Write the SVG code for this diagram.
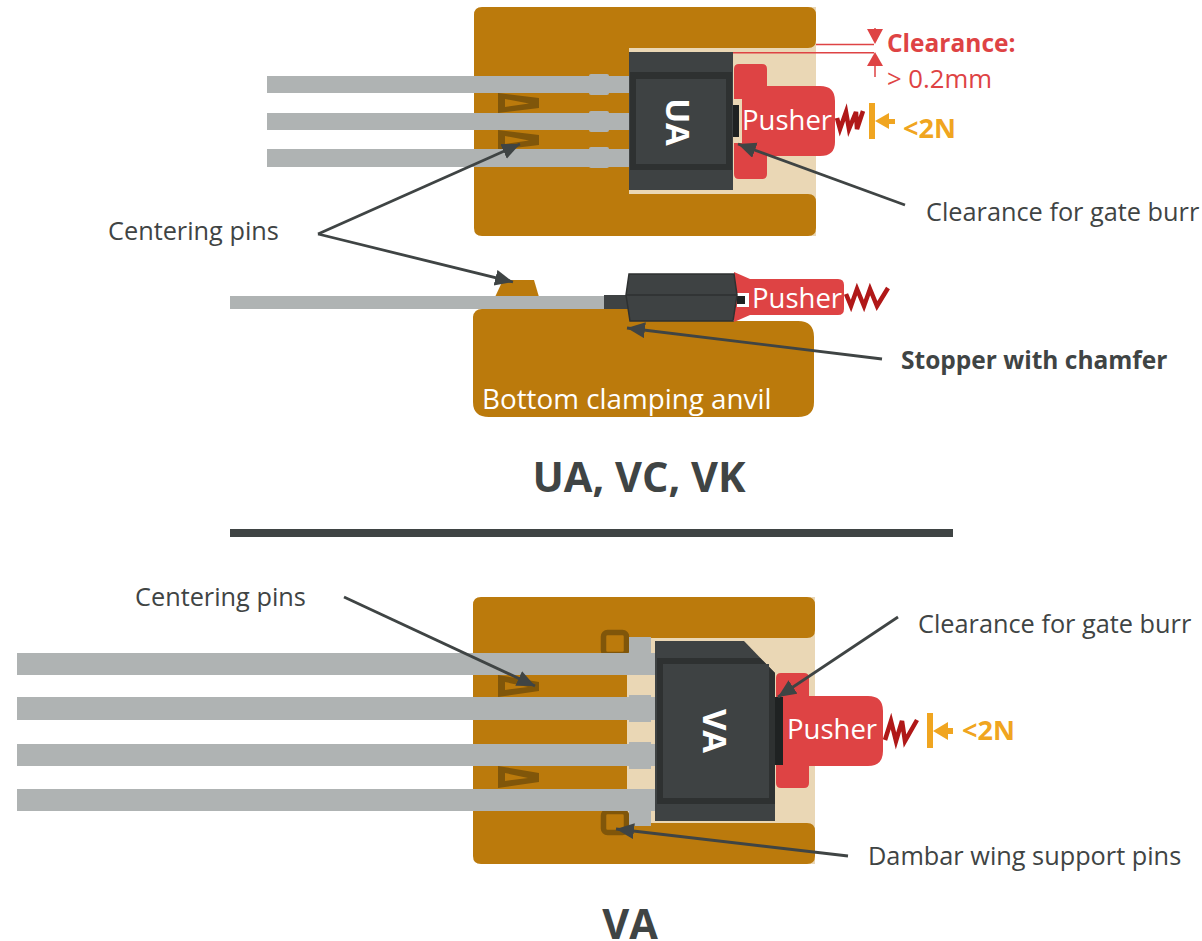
<svg xmlns="http://www.w3.org/2000/svg" width="1202" height="941" viewBox="0 0 1202 941">
<style>
text{font-family:"Open Sans","Noto Sans","Liberation Sans",sans-serif}
.b{fill:#bb7a0c}.w{fill:#ead7b5}.g{fill:#afb3b3}.c{fill:#3e4243}.d{fill:#2e3131}.r{fill:#de4344}
.k{fill:#1f2222}
.t{fill:#80560a;fill-rule:evenodd}
.q{fill:none;stroke:#80560a;stroke-width:5.5}
.s{fill:none;stroke:#b01818;stroke-width:4.5}
.l{fill:#3f4444;font-size:25.300px}
.p{fill:#fff;font-size:27.500px}
.o{fill:#f0a520;font-weight:700;font-size:27px}
.h{fill:#3f4444;font-weight:700;font-size:41.500px;text-anchor:middle}
.f{fill:#f0a520}
.a{stroke:#3f4444;stroke-width:2.800;fill:none;marker-end:url(#ah)}
.e{stroke:#de4344;stroke-width:1.500;fill:none}
.m{fill:#fff;font-size:33px;font-weight:700;text-anchor:middle}
</style>
<defs><marker id="ah" markerUnits="userSpaceOnUse" markerWidth="20" markerHeight="18" refX="18" refY="8" orient="auto"><path d="M0 0L18 8L0 16Z" fill="#3f4444"/></marker></defs>

<g id="ua-top">
<rect class="w" x="600" y="7" width="216" height="229"/>
<path class="b" d="M482 7H808Q816 7 816 15V40Q816 48 808 48H629V194H808Q816 194 816 202V228Q816 236 808 236H482Q474 236 474 228V15Q474 7 482 7Z"/>
<path class="t" d="M498 93L539 98V108L498 113ZM505 99V107L529 103.500Z"/>
<path class="t" d="M498 130L539 135V145L498 150ZM505 136V144L529 140.500Z"/>
<g class="g"><rect x="267" y="76" width="363" height="17"/><rect x="267" y="113" width="363" height="17"/><rect x="267" y="149" width="363" height="18"/>
<rect x="589" y="74" width="20" height="21" rx="2"/><rect x="589" y="111" width="20" height="21" rx="2"/><rect x="589" y="147" width="20" height="21" rx="2"/></g>
<rect class="c" x="629" y="52" width="104" height="138"/>
<rect class="d" x="630" y="72" width="102" height="98"/>
<rect class="c" x="636" y="79" width="90" height="85"/>
<text class="m" transform="translate(666,122) rotate(90)">UA</text>
</g>
<g id="ua-pusher">
<path class="r" d="M739 64H762Q767 64 767 69V86H820Q835 86 835 101V142Q835 156 820 156H767V174Q767 179 762 179H739Q734 179 734 174V69Q734 64 739 64Z"/>
<rect class="w" x="733" y="99" width="9" height="44"/>
<rect class="k" x="733" y="105" width="6" height="32"/>
<text class="p" x="742" y="130">Pusher</text>
<path class="s" d="M837 118L840 129L846 112L849 129L856 112L857 129L863 111"/>
</g>
<g id="ua-force">
<rect class="f" x="869" y="103" width="6" height="36"/>
<path class="f" d="M875 121L889 113V119H895V124H889V129Z"/>
<text class="o" x="903" y="138">&lt;2N</text>
</g>
<g id="ua-clearance">
<path class="e" d="M816 44.500H874M733 52.700H874M875 28V30M875 66V77"/>
<path class="r" d="M867 29H883L875 44Z"/>
<path class="r" d="M867 66H883L875 52Z"/>
<text x="887" y="52" fill="#de4344" font-size="24.500" font-weight="700">Clearance:</text>
<text x="887" y="88" fill="#de4344" font-size="25.700">&gt; 0.2mm</text>
</g>

<g id="ua-side">
<path class="b" d="M495 297L503 280H534L539 297Z"/>
<path class="b" d="M482 309H640V321H798Q814 321 814 337V402Q814 417 798 417H489Q473 417 473 402V317Q474 309 482 309Z"/>
<rect class="g" x="230" y="296" width="375" height="13"/>
<rect class="c" x="604" y="295" width="28" height="14"/>
<path class="r" d="M734 272L750 279H838Q844 279 844 285V309Q844 315 838 315H750L734 322Z"/>
<path d="M737 293H749V307H737Z" fill="#fff"/>
<rect class="k" x="737" y="296" width="8" height="8"/>
<path d="M629 274H734L737 295L733 321H630L626 295Z" fill="#3e4243" stroke="#2e3131" stroke-width="1.500"/>
<path d="M626 295H737" stroke="#2e3131" stroke-width="1.500"/>
<text class="p" x="752" y="308">Pusher</text>
<path class="s" d="M846 294L851 306L857 289L864 306L870 289L877 306L888 288"/>
<text x="482" y="409" fill="#fff" font-size="27.800">Bottom clamping anvil</text>
</g>

<rect id="divider" x="230" y="529" width="723" height="8" fill="#3f4444"/>

<g id="va-top">
<rect class="w" x="600" y="597" width="215" height="267"/>
<path class="b" d="M481 597H807Q815 597 815 605V630Q815 638 807 638H627V823H807Q815 823 815 831V856Q815 864 807 864H481Q473 864 473 856V605Q473 597 481 597Z"/>
<path class="t" d="M498 675L539 682V691L498 697ZM505 682V690L528 687Z"/>
<path class="t" d="M498 766L539 773V782L498 788ZM505 773V781L528 778Z"/>
<rect class="q" x="603.500" y="632.500" width="23" height="22" rx="4"/>
<rect class="q" x="603.500" y="811.500" width="23" height="21" rx="4"/>
<g class="g"><rect x="17" y="653" width="638" height="22"/><rect x="17" y="697" width="638" height="23"/><rect x="17" y="744" width="638" height="22"/><rect x="17" y="789" width="638" height="22"/>
<rect x="629" y="637" width="22" height="38"/><rect x="629" y="695" width="22" height="27"/><rect x="629" y="742" width="22" height="27"/><rect x="629" y="789" width="22" height="37"/></g>
<path class="c" d="M655 641H744L775 673V821H655Z"/>
<path class="d" d="M657 658H760L775 673V804H657Z"/>
<rect class="c" x="663" y="664" width="106" height="134"/>
<text class="m" transform="translate(703,731) rotate(90)">VA</text>
</g>
<g id="va-pusher">
<path class="r" d="M781 673H804Q809 673 809 678V696H868Q883 696 883 711V751Q883 766 868 766H809V783Q809 788 804 788H781Q776 788 776 783V678Q776 673 781 673Z"/>
<rect class="k" x="775" y="697" width="8" height="68"/>
<text class="p" x="787" y="739">Pusher</text>
<path class="s" d="M885 740L891 721L896 741L902 721L905 741L917 720"/>
</g>
<g id="va-force">
<rect class="f" x="927" y="713" width="6" height="35"/>
<path class="f" d="M933 731L948 722V728H953V734H948V740Z"/>
<text class="o" x="962" y="740">&lt;2N</text>
</g>

<g id="connectors">
<path class="a" d="M318 234L520 144"/>
<path class="a" d="M318 234L513 282"/>
<path class="a" d="M905 205L738 144"/>
<path class="a" d="M882 359L627 328"/>
<path class="a" d="M344 597L535 686"/>
<path class="a" d="M898 617L778 697"/>
<path class="a" d="M848 856L616 829"/>
</g>

<g id="labels">
<text class="l" x="108" y="240">Centering pins</text>
<text class="l" x="926" y="221">Clearance for gate burr</text>
<text class="l" x="901" y="369" font-weight="700" style="font-size:24.500px">Stopper with chamfer</text>
<text class="h" x="639" y="492">UA, VC, VK</text>
<text class="l" x="135" y="606">Centering pins</text>
<text class="l" x="918" y="633">Clearance for gate burr</text>
<text class="l" x="868" y="865">Dambar wing support pins</text>
<text class="h" x="630" y="939">VA</text>
</g>
</svg>
